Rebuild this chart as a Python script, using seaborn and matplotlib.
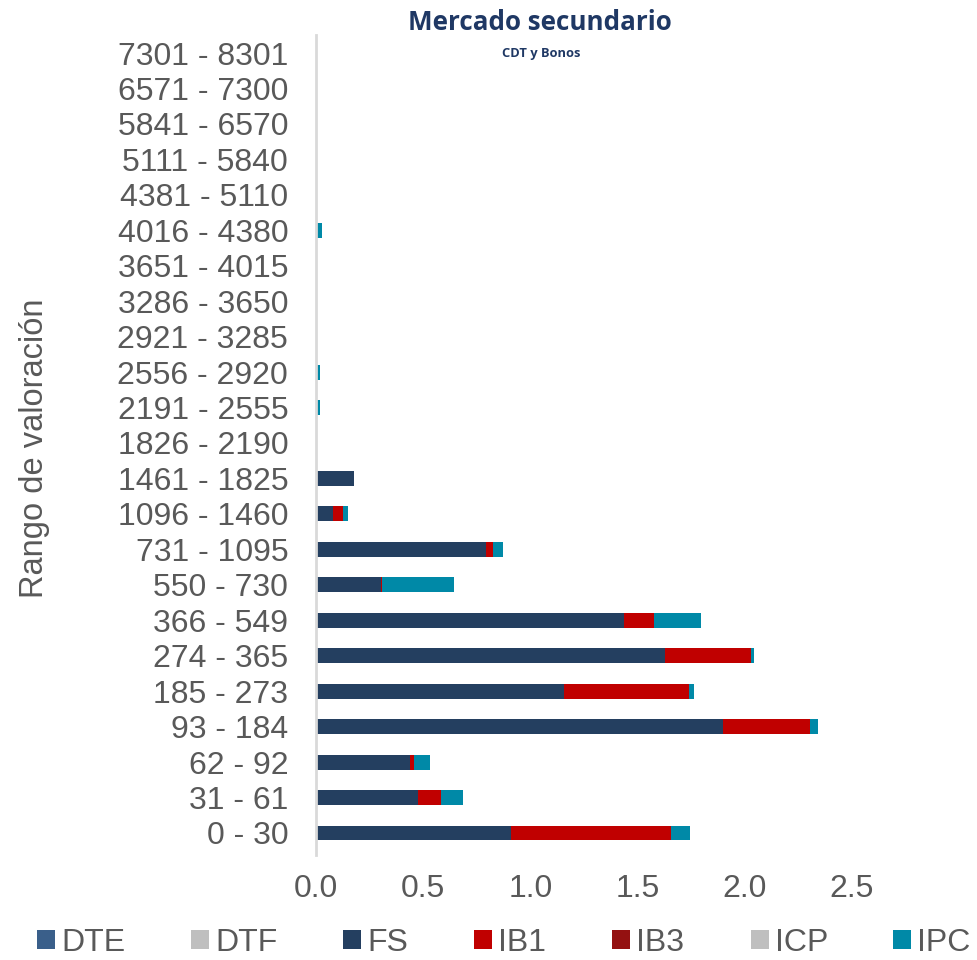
import matplotlib
matplotlib.use("Agg")
import matplotlib.pyplot as plt
from matplotlib.patches import Patch
import seaborn as sns
import numpy as np
import pandas as pd

categories = ["7301 - 8301", "6571 - 7300", "5841 - 6570", "5111 - 5840", "4381 - 5110",
              "4016 - 4380", "3651 - 4015", "3286 - 3650", "2921 - 3285", "2556 - 2920",
              "2191 - 2555", "1826 - 2190", "1461 - 1825", "1096 - 1460", "731 - 1095",
              "550 - 730", "366 - 549", "274 - 365", "185 - 273", "93 - 184",
              "62 - 92", "31 - 61", "0 - 30"]

series_names = ["DTE", "DTF", "FS", "IB1", "IB3", "ICP", "IPC"]
series_colors = ["#3A5F8A", "#BFBFBF", "#243F60", "#C00000", "#941111", "#BFBFBF", "#0089A7"]

dte = [0]*23
dtf = [0]*23
fs  = [0, 0, 0, 0, 0, 0, 0, 0, 0, 0, 0, 0, 0.179, 0.080, 0.792, 0.303, 1.438, 1.627, 1.157, 1.900, 0.437, 0.477, 0.912]
ib1 = [0, 0, 0, 0, 0, 0, 0, 0, 0, 0, 0, 0, 0, 0.047, 0.032, 0.003, 0.141, 0.402, 0.581, 0.405, 0.022, 0.104, 0.743]
ib3 = [0]*23
icp = [0]*23
ipc = [0, 0, 0, 0, 0, 0.027, 0, 0, 0, 0.020, 0.020, 0, 0, 0.023, 0.050, 0.340, 0.219, 0.013, 0.027, 0.035, 0.072, 0.107, 0.089]

xticks = [0.0, 0.5, 1.0, 1.5, 2.0, 2.5]

stack_order = ["DTE", "DTF", "FS", "IB1", "IB3", "ICP", "IPC"]
values = {"DTE": dte, "DTF": dtf, "FS": fs, "IB1": ib1, "IB3": ib3, "ICP": icp, "IPC": ipc}
color_map = dict(zip(series_names, series_colors))

df = pd.DataFrame({"cat": categories})
cum = np.zeros(len(categories))
for s in stack_order:
    cum = cum + np.array(values[s], dtype=float)
    df[s] = cum.copy()

sns.set_style("white")
plt.rcParams["font.family"] = ["Liberation Sans", "DejaVu Sans"]

W, H = 977, 960
fig = plt.figure(figsize=(W/100, H/100), dpi=100)
ax = fig.add_axes([316/W, 1-855/H, (959-316)/W, (855-35)/H])

for s in reversed(stack_order):
    sns.barplot(data=df, x=s, y="cat", order=categories, color=color_map[s],
                orient="h", ax=ax, width=0.42, saturation=1, linewidth=0)

ax.set_xlim(0, 3.0)
ax.set_ylim(22 + 22/35.45, -18/35.45)
ax.set_xticks(xticks)
ax.set_xticklabels([f"{t:.1f}" for t in xticks])
ax.set_xlabel("")
ax.set_ylabel("Rango de valoración", fontsize=23.5, color="#595959")
ax.yaxis.set_label_coords((50 - 316) / (959 - 316), (855 - 448) / (855 - 35))
ax.tick_params(axis="y", length=0, pad=20, labelsize=23, labelcolor="#595959")
ax.tick_params(axis="x", length=0, pad=14, labelsize=23, labelcolor="#595959")
for lab in ax.get_xticklabels():
    lab.set_family(["Liberation Sans Narrow", "Liberation Sans"])
for sp in ["top", "right", "bottom"]:
    ax.spines[sp].set_visible(False)
ax.spines["left"].set_color("#D9D9D9")
ax.spines["left"].set_linewidth(2)
ax.grid(False)

fig.text(540/W, 1-22/H, "Mercado secundario", ha="center", va="center",
         fontsize=18.7, fontweight="bold", color="#1F3864", family=["Open Sans", "DejaVu Sans"])
fig.text(541/W, 1-53/H, "CDT y Bonos", ha="center", va="center",
         fontsize=9.3, fontweight="bold", color="#1F3864", family=["Open Sans", "DejaVu Sans"])

legend_x = [37, 191, 343, 474, 612, 751, 893]
for s, lx in zip(series_names, legend_x):
    leg = fig.legend([Patch(facecolor=color_map[s], edgecolor="none")], [s],
                     loc="center left", bbox_to_anchor=(lx/W, 1-943/H),
                     frameon=False, fontsize=23, handlelength=0.55, handleheight=0.55,
                     handletextpad=0.2, borderaxespad=0, borderpad=0)
    for t in leg.get_texts():
        t.set_color("#595959")

fig.savefig("out.png", dpi=100)
